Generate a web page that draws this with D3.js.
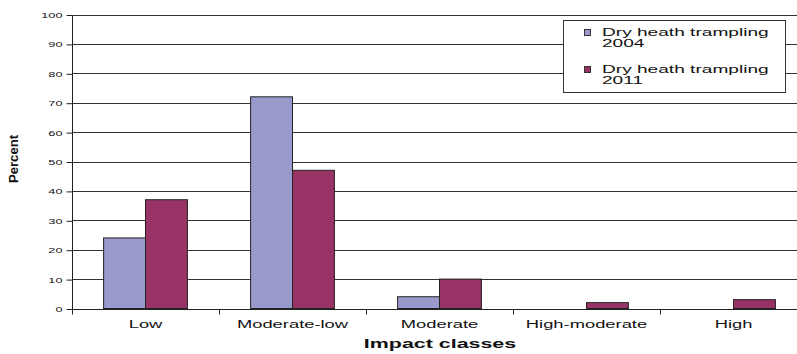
<!DOCTYPE html>
<html>
<head>
<meta charset="utf-8">
<script src="https://cdn.jsdelivr.net/npm/d3@7"></script>
<style>
  body { margin: 0; background: #fff; }
  svg { display: block; font-family: "Liberation Sans", Arial, sans-serif; }
</style>
</head>
<body>
<svg id="chart" width="797" height="354"></svg>
<script>
// Impact classes and percentages for each survey year
const categories = ["Low", "Moderate-low", "Moderate", "High-moderate", "High"];
const seriesNames = ["Dry heath trampling 2004", "Dry heath trampling 2011"];
const values2004 = [24, 72, 4, 0, 0];
const values2011 = [37, 47, 10, 2, 3];
const yTicks = [0, 10, 20, 30, 40, 50, 60, 70, 80, 90, 100];
const colors = ["#9999cc", "#993366"];

// all lettering is drawn horizontally widened
const WIDEN = 1.7;

const svg = d3.select("#chart");
const plotLeft = 72, plotRight = 807, plotTop = 14.5, plotBottom = 308.5;

const x = d3.scaleBand().domain(categories).range([plotLeft, plotRight]).paddingInner(0).paddingOuter(0);
const y = d3.scaleLinear().domain([0, 100]).range([plotBottom, plotTop]);
const groupW = x.bandwidth() * 0.57;
const x1 = d3.scaleBand().domain([0, 1]).range([0, groupW]);

// horizontal gridlines
svg.append("g").selectAll("line").data(yTicks.filter(d => d > 0)).join("line")
  .attr("x1", plotLeft).attr("x2", plotRight)
  .attr("y1", d => Math.round(y(d)) + 0.5).attr("y2", d => Math.round(y(d)) + 0.5)
  .attr("stroke", "#333").attr("stroke-width", 1);

// bars
const series = [values2004, values2011];
series.forEach((vals, si) => {
  svg.append("g").selectAll("rect").data(categories).join("rect")
    .attr("x", c => x(c) + (x.bandwidth() - groupW) / 2 + x1(si))
    .attr("width", x1.bandwidth())
    .attr("y", (c, i) => y(vals[i]))
    .attr("height", (c, i) => y(0) - y(vals[i]))
    .attr("fill", colors[si])
    .attr("stroke", (c, i) => vals[i] > 0 ? "#222" : "none")
    .attr("stroke-width", 1);
});

function widen(sel) {
  sel.each(function () {
    const t = d3.select(this);
    const xv = +t.attr("x") || 0;
    t.attr("x", xv / WIDEN).attr("transform", `scale(${WIDEN},1)`);
  });
}

// y axis
const yAxis = d3.axisLeft(y).tickValues(yTicks).tickSize(6).tickPadding(4);
const gy = svg.append("g").attr("transform", `translate(${plotLeft + 0.5},0.5)`).call(yAxis);
gy.select(".domain").attr("stroke", "#222").attr("d", `M0,${plotBottom}V${plotTop}`);
gy.selectAll(".tick line").attr("stroke", "#222");
gy.selectAll(".tick text").attr("font-size", 7.5).attr("fill", "#111")
  .attr("font-family", "Liberation Sans, Arial, sans-serif").call(widen);

// x axis
const xAxis = d3.axisBottom(x).tickSize(0).tickPadding(11);
const gx = svg.append("g").attr("transform", `translate(0,${Math.round(plotBottom) + 0.5})`).call(xAxis);
gx.select(".domain").attr("stroke", "#222").attr("d", `M${plotLeft},0H${plotRight}`);
gx.selectAll(".tick text").attr("font-size", 10.8).attr("fill", "#111")
  .attr("font-family", "Liberation Sans, Arial, sans-serif").call(widen);
// category separator ticks
gx.append("g").selectAll("line").data(categories).join("line")
  .attr("x1", c => Math.round(x(c)) + 0.5).attr("x2", c => Math.round(x(c)) + 0.5)
  .attr("y1", 0).attr("y2", 5).attr("stroke", "#222");

// axis titles
svg.append("text").attr("transform", `translate(440,348) scale(${WIDEN},1)`).attr("text-anchor", "middle")
  .attr("font-size", 12.6).attr("font-weight", "bold").attr("fill", "#111").text("Impact classes");
svg.append("text").attr("transform", "translate(18,159) rotate(-90) scale(1.05,1)")
  .attr("text-anchor", "middle").attr("font-size", 12.5).attr("font-weight", "bold")
  .attr("fill", "#111").text("Percent");

// legend
const lg = svg.append("g");
lg.append("rect").attr("x", 563.5).attr("y", 20.5).attr("width", 222).attr("height", 72)
  .attr("fill", "#fff").attr("stroke", "#333");
seriesNames.forEach((name, i) => {
  const yy = 29 + i * 37;
  lg.append("rect").attr("x", 584.5).attr("y", yy + 0.5).attr("width", 6).attr("height", 6)
    .attr("fill", colors[i]).attr("stroke", "#333");
  const parts = [name.slice(0, name.lastIndexOf(" ")), name.slice(name.lastIndexOf(" ") + 1)];
  parts.forEach((p, j) => {
    lg.append("text").attr("transform", `translate(602,${yy + 7 + j * 10.8}) scale(1.82,1)`)
      .attr("font-size", 10.5).attr("fill", "#111").text(p);
  });
});
</script>
</body>
</html>
